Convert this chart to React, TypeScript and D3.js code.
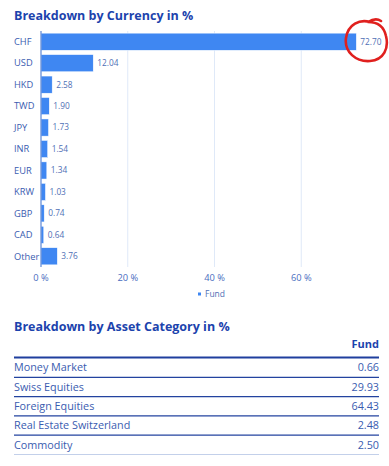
import React, { useEffect, useRef } from "react";
import * as d3 from "d3";

const currencies = ["CHF", "USD", "HKD", "TWD", "JPY", "INR", "EUR", "KRW", "GBP", "CAD", "Other"];
const currencyValues = [72.7, 12.04, 2.58, 1.9, 1.73, 1.54, 1.34, 1.03, 0.74, 0.64, 3.76];
const xTicks = [0, 20, 40, 60];
const seriesName = "Fund";

const assetCategories = ["Money Market", "Swiss Equities", "Foreign Equities", "Real Estate Switzerland", "Commodity"];
const assetValues = [0.66, 29.93, 64.43, 2.48, 2.5];

const FONT = "'Open Sans', 'Noto Sans', sans-serif";
const TITLE_BLUE = "#1c43ad";
const TEXT_BLUE = "#3a5cb0";
const BAR_BLUE = "#3f87f2";

const App = () => {
  const svgRef = useRef<SVGSVGElement | null>(null);

  useEffect(() => {
    const svg = d3.select(svgRef.current);
    svg.selectAll("*").remove();

    const x = d3.scaleLinear().domain([0, 80]).range([41, 388]);
    const y = d3.scaleBand().domain(currencies).range([31, 267]).paddingInner(0.2).paddingOuter(0.1);

    svg
      .append("text")
      .attr("x", 14)
      .attr("y", 20)
      .attr("fill", TITLE_BLUE)
      .style("font-family", FONT)
      .style("font-weight", "bold")
      .style("font-size", "12.5px")
      .text("Breakdown by Currency in %");

    // gridlines
    svg
      .selectAll(".grid")
      .data(xTicks.filter((t) => t > 0))
      .enter()
      .append("line")
      .attr("x1", (d) => x(d))
      .attr("x2", (d) => x(d))
      .attr("y1", 31)
      .attr("y2", 267)
      .attr("stroke", "#dfe9f8")
      .attr("stroke-width", 1);

    // bars
    svg
      .selectAll(".bar")
      .data(currencyValues)
      .enter()
      .append("rect")
      .attr("x", x(0))
      .attr("y", (d, i) => y(currencies[i])!)
      .attr("width", (d) => x(d) - x(0))
      .attr("height", y.bandwidth())
      .attr("fill", BAR_BLUE)
      .attr("stroke", "#ffffff")
      .attr("stroke-width", 0.5);

    // value labels
    svg
      .selectAll(".val")
      .data(currencyValues)
      .enter()
      .append("text")
      .attr("x", (d) => x(d) + 4)
      .attr("y", (d, i) => y(currencies[i])! + y.bandwidth() / 2)
      .attr("dy", "0.35em")
      .attr("fill", "#4f6fb5")
      .style("font-family", FONT)
      .style("font-size", "8.3px")
      .text((d) => d.toFixed(2));

    // category labels
    svg
      .selectAll(".cat")
      .data(currencies)
      .enter()
      .append("text")
      .attr("x", 14)
      .attr("y", (d) => y(d)! + y.bandwidth() / 2)
      .attr("dy", "0.35em")
      .attr("fill", TEXT_BLUE)
      .style("font-family", FONT)
      .style("font-size", "9.3px")
      .text((d) => d);

    // axis line
    svg
      .append("line")
      .attr("x1", x(0))
      .attr("x2", x(0))
      .attr("y1", 31)
      .attr("y2", 267)
      .attr("stroke", "#5b86d6")
      .attr("stroke-width", 1.2);

    // tick labels
    svg
      .selectAll(".tick")
      .data(xTicks)
      .enter()
      .append("text")
      .attr("x", (d) => x(d))
      .attr("y", 281)
      .attr("text-anchor", "middle")
      .attr("fill", "#4a6dc0")
      .style("font-family", FONT)
      .style("font-size", "9.3px")
      .text((d) => `${d} %`);

    // legend
    svg
      .append("rect")
      .attr("x", 198)
      .attr("y", 292.5)
      .attr("width", 3)
      .attr("height", 3)
      .attr("fill", BAR_BLUE);
    svg
      .append("text")
      .attr("x", 205)
      .attr("y", 297)
      .attr("fill", "#4f6fb5")
      .style("font-family", FONT)
      .style("font-size", "8.5px")
      .text(seriesName);

    // hand-drawn red circle around the CHF label
    svg
      .append("path")
      .attr("d", "M370,22 C360,19 348,24 346,38 C344,52 356,62 370,61 C384,60 389,48 386,36 C384,27 378,22 368,22 M368,22 C373,19 378,19 381,21")
      .attr("fill", "none")
      .attr("stroke", "#e0201e")
      .attr("stroke-width", 2.6)
      .attr("stroke-linecap", "round");

    // table
    svg
      .append("text")
      .attr("x", 14)
      .attr("y", 331)
      .attr("fill", TITLE_BLUE)
      .style("font-family", FONT)
      .style("font-weight", "bold")
      .style("font-size", "12.5px")
      .text("Breakdown by Asset Category in %");

    svg
      .append("text")
      .attr("x", 379)
      .attr("y", 348)
      .attr("text-anchor", "end")
      .attr("fill", TITLE_BLUE)
      .style("font-family", FONT)
      .style("font-weight", "bold")
      .style("font-size", "11px")
      .text(seriesName);

    const rowY = d3.scaleBand().domain(assetCategories).range([358, 454.5]);

    svg
      .append("line")
      .attr("x1", 14)
      .attr("x2", 379)
      .attr("y1", 357.5)
      .attr("y2", 357.5)
      .attr("stroke", "#1f3f9e")
      .attr("stroke-width", 2);

    const rows = svg
      .selectAll(".row")
      .data(assetCategories)
      .enter()
      .append("g");

    rows
      .append("text")
      .attr("x", 14)
      .attr("y", (d) => rowY(d)! + rowY.bandwidth() / 2)
      .attr("dy", "0.35em")
      .attr("fill", TEXT_BLUE)
      .style("font-family", FONT)
      .style("font-size", "10.8px")
      .text((d) => d);

    rows
      .append("text")
      .attr("x", 379)
      .attr("y", (d) => rowY(d)! + rowY.bandwidth() / 2)
      .attr("dy", "0.35em")
      .attr("text-anchor", "end")
      .attr("fill", TEXT_BLUE)
      .style("font-family", FONT)
      .style("font-size", "10.8px")
      .text((d, i) => assetValues[i].toFixed(2));

    rows
      .append("line")
      .attr("x1", 14)
      .attr("x2", 379)
      .attr("y1", (d) => rowY(d)! + rowY.bandwidth())
      .attr("y2", (d) => rowY(d)! + rowY.bandwidth())
      .attr("stroke", (d, i) => (i === assetCategories.length - 1 ? "#c3d0ea" : "#23439f"))
      .attr("stroke-width", (d, i) => (i === assetCategories.length - 1 ? 1 : 1.3));

    return () => {
      svg.selectAll("*").remove();
    };
  }, []);

  return <svg ref={svgRef} width={389} height={466} style={{ position: "absolute", left: 0, top: 0 }}></svg>;
};

export default App;
